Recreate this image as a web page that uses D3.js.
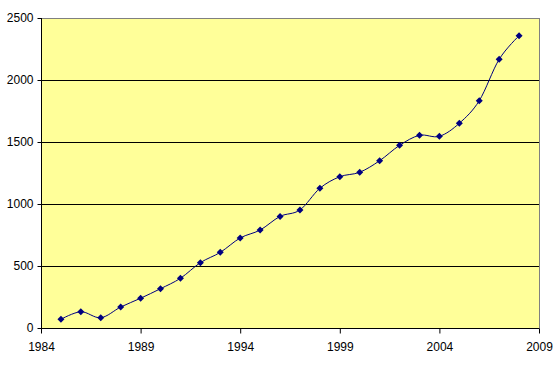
<!DOCTYPE html>
<html><head><meta charset="utf-8">
<script src="https://cdn.jsdelivr.net/npm/d3@7"></script>
<style>body{margin:0;background:#fff}svg{display:block}text{font-family:"Liberation Sans",Arial,sans-serif;font-size:12px;fill:#000}</style>
</head><body><svg id="c" width="557" height="367"></svg>
<script>
const years = [1985,1986,1987,1988,1989,1990,1991,1992,1993,1994,1995,1996,1997,1998,1999,2000,2001,2002,2003,2004,2005,2006,2007,2008];
const values = [70,131,83,169,240,317,401,527,610,726,790,900,952,1127,1220,1256,1349,1473,1554,1546,1651,1833,2167,2357];
const xTicks = [1984,1989,1994,1999,2004,2009];
const yTicks = [0,500,1000,1500,2000,2500];

const svg = d3.select("#c");
const L=41,R=539,T=18,B=328;
const x = d3.scaleLinear().domain([1984,2009]).range([L,R]);
const y = d3.scaleLinear().domain([0,2500]).range([B,T]);

svg.append("rect").attr("x",L).attr("y",T).attr("width",R-L).attr("height",B-T).attr("fill","#FFFF99").attr("stroke","#808080").attr("stroke-width",1).attr("shape-rendering","crispEdges");

svg.append("g").selectAll("line").data(yTicks.filter(d=>d>0&&d<2500)).join("line")
  .attr("x1",L).attr("x2",R).attr("y1",d=>Math.round(y(d))+0.5).attr("y2",d=>Math.round(y(d))+0.5)
  .attr("stroke","#000").attr("stroke-width",1);

const yAxis = d3.axisLeft(y).tickValues(yTicks).tickSize(4).tickPadding(4).tickFormat(d3.format("d"));
const gy = svg.append("g").attr("transform",`translate(${L+0.5},0)`).call(yAxis);
const xAxis = d3.axisBottom(x).tickValues(xTicks).tickSize(5).tickPadding(9).tickFormat(d3.format("d"));
const gx = svg.append("g").attr("transform",`translate(0,${B+0.5})`).call(xAxis);
[gy,gx].forEach(g=>{
  g.select(".domain").attr("stroke","#000");
  g.selectAll(".tick line").attr("stroke","#000");
  g.selectAll("text").attr("font-size","12px").attr("font-family",'"Liberation Sans",Arial,sans-serif').attr("fill","#000");
});
gy.select(".domain").attr("d",`M0,${T}V${B}`);
gx.select(".domain").attr("d",`M${L},0H${R}`);

const pts = years.map((d,i)=>[x(d),y(values[i])]);
svg.append("path").attr("d",d3.line().curve(d3.curveCardinal.tension(0))(pts))
  .attr("fill","none").attr("stroke","#000080").attr("stroke-width",1);

svg.append("g").selectAll("path").data(pts).join("path")
  .attr("transform",d=>`translate(${d[0]},${d[1]})`)
  .attr("d","M0,-3.5L3.5,0L0,3.5L-3.5,0Z").attr("fill","#000080");
</script></body></html>
